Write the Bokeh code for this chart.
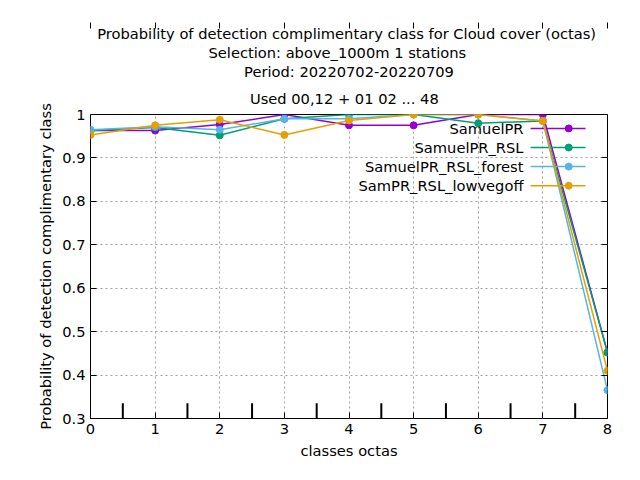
from bokeh.plotting import figure
from bokeh.models import Title, Range1d, FixedTicker, LinearAxis
from bokeh.embed import file_html
from bokeh.resources import INLINE

classes = [0, 1, 2, 3, 4, 5, 6, 7, 8]
samuel = [0.963, 0.963, 0.977, 1.0, 0.975, 0.975, 1.0, 1.0, 0.452]
samuel_rsl = [0.963, 0.970, 0.952, 0.990, 1.0, 1.0, 0.980, 0.985, 0.452]
samuel_forest = [0.965, 0.972, 0.965, 0.990, 0.990, 1.0, 1.0, 0.985, 0.365]
sam_lowveg = [0.953, 0.975, 0.988, 0.953, 0.986, 1.0, 1.0, 0.985, 0.410]
names = ["SamuelPR", "SamuelPR_RSL", "SamuelPR_RSL_forest", "SamPR_RSL_lowvegoff"]
colors = ["#9400d3", "#009e73", "#56b4e9", "#e69f00"]
mid_ticks = [0.5, 1.5, 2.5, 3.5, 4.5, 5.5, 6.5, 7.5]
title_lines = ["Probability of detection complimentary class  for Cloud cover (octas)",
               "Selection: above_1000m      1 stations",
               "Period: 20220702-20220709",
               "Used  00,12  + 01 02 ... 48"]

FONT = "DejaVu Sans"

p = figure(width=624, height=464, output_backend="svg", toolbar_location=None,
           x_range=Range1d(0, 8), y_range=Range1d(0.3, 1.0),
           min_border_left=90, min_border_right=17, min_border_top=114, min_border_bottom=46)
p.outline_line_color = "black"
p.outline_line_width = 1

for i, t in enumerate(reversed(title_lines)):
    p.add_layout(Title(text=t, align="center", text_font=FONT, text_font_size="11pt",
                       text_font_style="normal", text_color="black",
                       standoff=16 if i == 0 else 0), "above")

p.xaxis.axis_label = "classes octas"
p.yaxis.axis_label = "Probability of detection complimentary class"
for ax in (p.xaxis[0], p.yaxis[0]):
    ax.axis_label_text_font = FONT
    ax.axis_label_text_font_size = "11pt"
    ax.axis_label_text_font_style = "normal"
    ax.axis_label_text_color = "black"
    ax.major_label_text_font = FONT
    ax.major_label_text_font_size = "11pt"
    ax.major_label_text_color = "black"
    ax.major_tick_in = 6
    ax.major_tick_out = 0
    ax.minor_tick_line_color = None
    ax.axis_line_color = None
p.xaxis.ticker = FixedTicker(ticks=classes)
yt = [0.3, 0.4, 0.5, 0.6, 0.7, 0.8, 0.9, 1.0]
p.yaxis.ticker = FixedTicker(ticks=yt)
p.yaxis.major_label_overrides = {v: ("1" if v == 1.0 else f"{v:.1f}") for v in yt}

for loc in ("right", "above"):
    ax = LinearAxis(ticker=FixedTicker(ticks=yt if loc == "right" else classes),
                    major_label_text_font_size="0pt", major_tick_in=6, major_tick_out=0,
                    minor_tick_line_color=None, axis_line_color=None)
    p.add_layout(ax, loc)

p.grid.grid_line_color = "#a0a0a0"
p.grid.grid_line_dash = "2 3"
p.xgrid.ticker = FixedTicker(ticks=classes)
p.ygrid.ticker = FixedTicker(ticks=yt)

p.segment(x0=mid_ticks, y0=[0.3] * 8, x1=mid_ticks, y1=[0.335] * 8,
          line_color="black", line_width=2)

series = [samuel, samuel_rsl, samuel_forest, sam_lowveg]
ly = [0.968, 0.924, 0.880, 0.836]
for s, n, c, y in zip(series, names, colors, ly):
    p.line(classes, s, line_color=c, line_width=1.5)
    p.scatter(classes, s, size=7, marker="circle", color=c)
    p.line([6.81, 7.66], [y, y], line_color=c, line_width=1.5)
    p.scatter([7.4], [y], size=7, color=c)
    p.text([6.70], [y], text=[n], text_align="right", text_baseline="middle",
           text_font={"value": FONT}, text_font_size="11pt", text_color="black")

open("out.html", "w").write(file_html(p, INLINE))
